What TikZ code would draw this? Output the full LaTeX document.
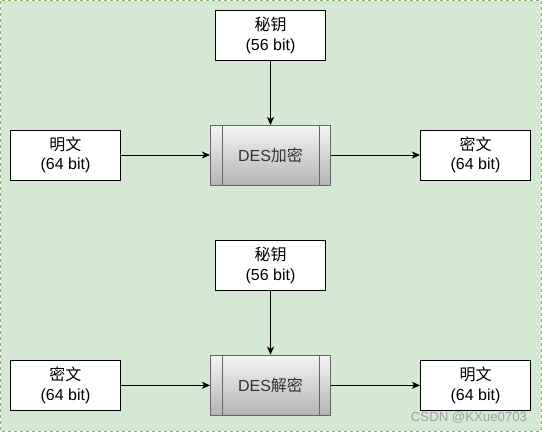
\documentclass[tikz,border=0pt]{standalone}
\usepackage{fontspec}
\setmainfont{Liberation Sans}
\newfontfamily\cjk{Noto Sans CJK SC}
\usetikzlibrary{arrows.meta}
\definecolor{bgfill}{HTML}{D5E8D4}
\definecolor{bgline}{HTML}{82B366}
\definecolor{procline}{HTML}{666666}
\definecolor{proctop}{HTML}{F5F5F5}
\definecolor{procbot}{HTML}{B3B3B3}
\definecolor{proctext}{HTML}{333333}
\definecolor{wmark}{HTML}{A0A0A0}
\newcommand{\zh}[1]{{\cjk #1}}
\tikzset{
  x=1pt, y=-1pt,
  plainbox/.style={draw=black, fill=white, line width=1pt, minimum width=110pt, minimum height=50pt,
    align=center, inner sep=0pt, font=\fontsize{16}{19.5}\selectfont},
  procbox/.style={draw=procline, line width=1pt, top color=proctop, bottom color=procbot,
    minimum width=120pt, minimum height=60pt, inner sep=0pt, text=proctext,
    font=\fontsize{16}{19.5}\selectfont,
    append after command={
      (\tikzlastnode.north west) ++(12pt,0) edge[draw=procline, line width=1pt] ++(0,-60pt)
      (\tikzlastnode.north east) ++(-12pt,0) edge[draw=procline, line width=1pt] ++(0,-60pt)
    }},
  flow/.style={draw=black, line width=1pt, -{Stealth[length=8pt,width=7pt,inset=2pt]}}
}
\begin{document}
\begin{tikzpicture}
\useasboundingbox (0,0) rectangle (542,432);
\draw[fill=bgfill, draw=bgline, dashed, line width=1pt] (0.5,0.5) rectangle (541,431);

% upper part
\node[plainbox] (key1) at (270.5,35.5) {\zh{秘钥}\\(56 bit)};
\node[procbox] (des1) at (270.5,155.5) {DES\zh{加密}};
\node[plainbox] (pt1) at (65.5,155) {\zh{明文}\\(64 bit)};
\node[plainbox] (ct1) at (475.5,155) {\zh{密文}\\(64 bit)};

\draw[flow] (key1.south) -- (des1.north);
\draw[flow] (pt1.east) -- (pt1.east -| des1.west);
\draw[flow] (des1.east |- ct1.west) -- (ct1.west);

% lower part
\node[plainbox] (key2) at (270.5,265.3) {\zh{秘钥}\\(56 bit)};
\node[procbox] (des2) at (270.5,385.2) {DES\zh{解密}};
\node[plainbox] (ct2) at (65.5,385.3) {\zh{密文}\\(64 bit)};
\node[plainbox] (pt2) at (475.5,385.3) {\zh{明文}\\(64 bit)};

\draw[flow] (key2.south) -- (des2.north);
\draw[flow] (ct2.east) -- (ct2.east -| des2.west);
\draw[flow] (des2.east |- pt2.west) -- (pt2.west);

\node[text=wmark, font=\fontsize{13.2}{15}\selectfont, inner sep=0pt, anchor=base] (wm) at (469,421.5) {CSDN @KXue0703};
\end{tikzpicture}
\end{document}
